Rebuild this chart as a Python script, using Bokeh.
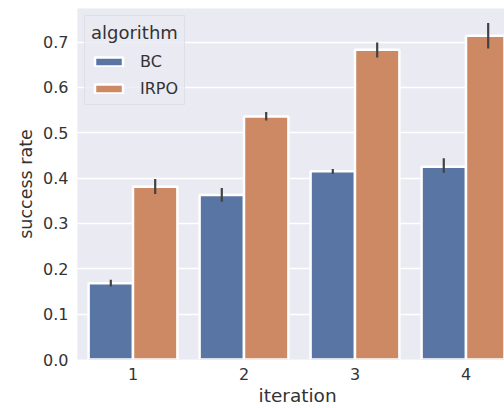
from bokeh.plotting import figure
from bokeh.models import ColumnDataSource, FixedTicker, Legend, LegendItem, Range1d, Title
from bokeh.transform import dodge
from bokeh.embed import file_html
from bokeh.resources import INLINE

# success rate per iteration, mean and confidence interval for each algorithm
iterations = ["1", "2", "3", "4"]
algorithms = ["BC", "IRPO"]

bc_rate = [0.168, 0.363, 0.415, 0.425]
bc_lo = [0.161, 0.348, 0.409, 0.412]
bc_hi = [0.176, 0.378, 0.420, 0.444]

irpo_rate = [0.381, 0.536, 0.683, 0.714]
irpo_lo = [0.365, 0.527, 0.666, 0.686]
irpo_hi = [0.398, 0.546, 0.699, 0.742]

y_ticks = [0.0, 0.1, 0.2, 0.3, 0.4, 0.5, 0.6, 0.7]

colors = {"BC": "#5875a3", "IRPO": "#cc8963"}
text_color = "#333333"
font = "DejaVu Sans"

idx = list(range(len(iterations)))
series = {
    "BC": dict(x=idx, rate=bc_rate, lo=bc_lo, hi=bc_hi),
    "IRPO": dict(x=idx, rate=irpo_rate, lo=irpo_lo, hi=irpo_hi),
}
offsets = {"BC": -0.2, "IRPO": 0.2}

p = figure(
    width=504, height=408,
    output_backend="svg", toolbar_location=None,
    x_range=Range1d(-0.5, 3.347), y_range=Range1d(0, 0.774),
    min_border_left=77, min_border_right=0, min_border_top=8, min_border_bottom=49,
)
p.background_fill_color = "#eaeaf2"
p.border_fill_color = "white"
p.outline_line_color = None

items = []
for name in algorithms:
    src = ColumnDataSource(series[name])
    r = p.vbar(
        x=dodge("x", offsets[name], range=p.x_range), top="rate", width=0.4,
        source=src, fill_color=colors[name], line_color="white", line_width=2.5,
    )
    items.append(LegendItem(label=name, renderers=[r]))

for name in algorithms:
    src = ColumnDataSource(series[name])
    xs = dodge("x", offsets[name], range=p.x_range)
    p.segment(x0=xs, x1=xs, y0="lo", y1="hi", source=src,
              line_color="#424242", line_width=2.2)

# axes
p.xaxis.ticker = FixedTicker(ticks=idx)
p.xaxis.major_label_overrides = {i: lab for i, lab in zip(idx, iterations)}
p.yaxis.ticker = FixedTicker(ticks=y_ticks)
p.yaxis.major_label_overrides = {t: f"{t:.1f}" for t in y_ticks}
p.yaxis.axis_label = "success rate"
for ax in (p.xaxis[0], p.yaxis[0]):
    ax.axis_line_color = None
    ax.major_tick_line_color = None
    ax.minor_tick_line_color = None
    ax.major_tick_out = 0
    ax.major_tick_in = 0
    ax.major_label_text_font = font
    ax.major_label_text_font_size = "16px"
    ax.major_label_text_color = text_color
    ax.axis_label_text_font = font
    ax.axis_label_text_font_size = "17.5px"
    ax.axis_label_text_font_style = "normal"
    ax.axis_label_text_color = text_color
p.xaxis.major_label_standoff = 8
p.yaxis.major_label_standoff = 9
p.yaxis.axis_label_standoff = 4

p.xgrid.grid_line_color = None
p.ygrid.ticker = FixedTicker(ticks=y_ticks)
p.ygrid.grid_line_color = "white"
p.ygrid.grid_line_width = 1.5

# x axis title, placed under the middle of the full category span
p.add_layout(Title(
    text="iteration", align="left", offset=181, standoff=0,
    text_font=font, text_font_size="18.5px", text_font_style="normal",
    text_color=text_color,
), "below")

legend = Legend(
    items=items, location="top_left", margin=7, padding=6,
    title="algorithm", title_text_font=font, title_text_font_size="18px",
    title_text_font_style="normal", title_text_color=text_color, title_standoff=9,
    label_text_font=font, label_text_font_size="16px", label_text_color=text_color,
    label_standoff=14, label_height=16, glyph_width=35, glyph_height=11, spacing=8,
    background_fill_color="#eaeaf2", background_fill_alpha=0.8,
    border_line_color="#d4d4dc", border_line_width=1,
)
p.add_layout(legend)

open("out.html", "w").write(file_html(p, INLINE))
